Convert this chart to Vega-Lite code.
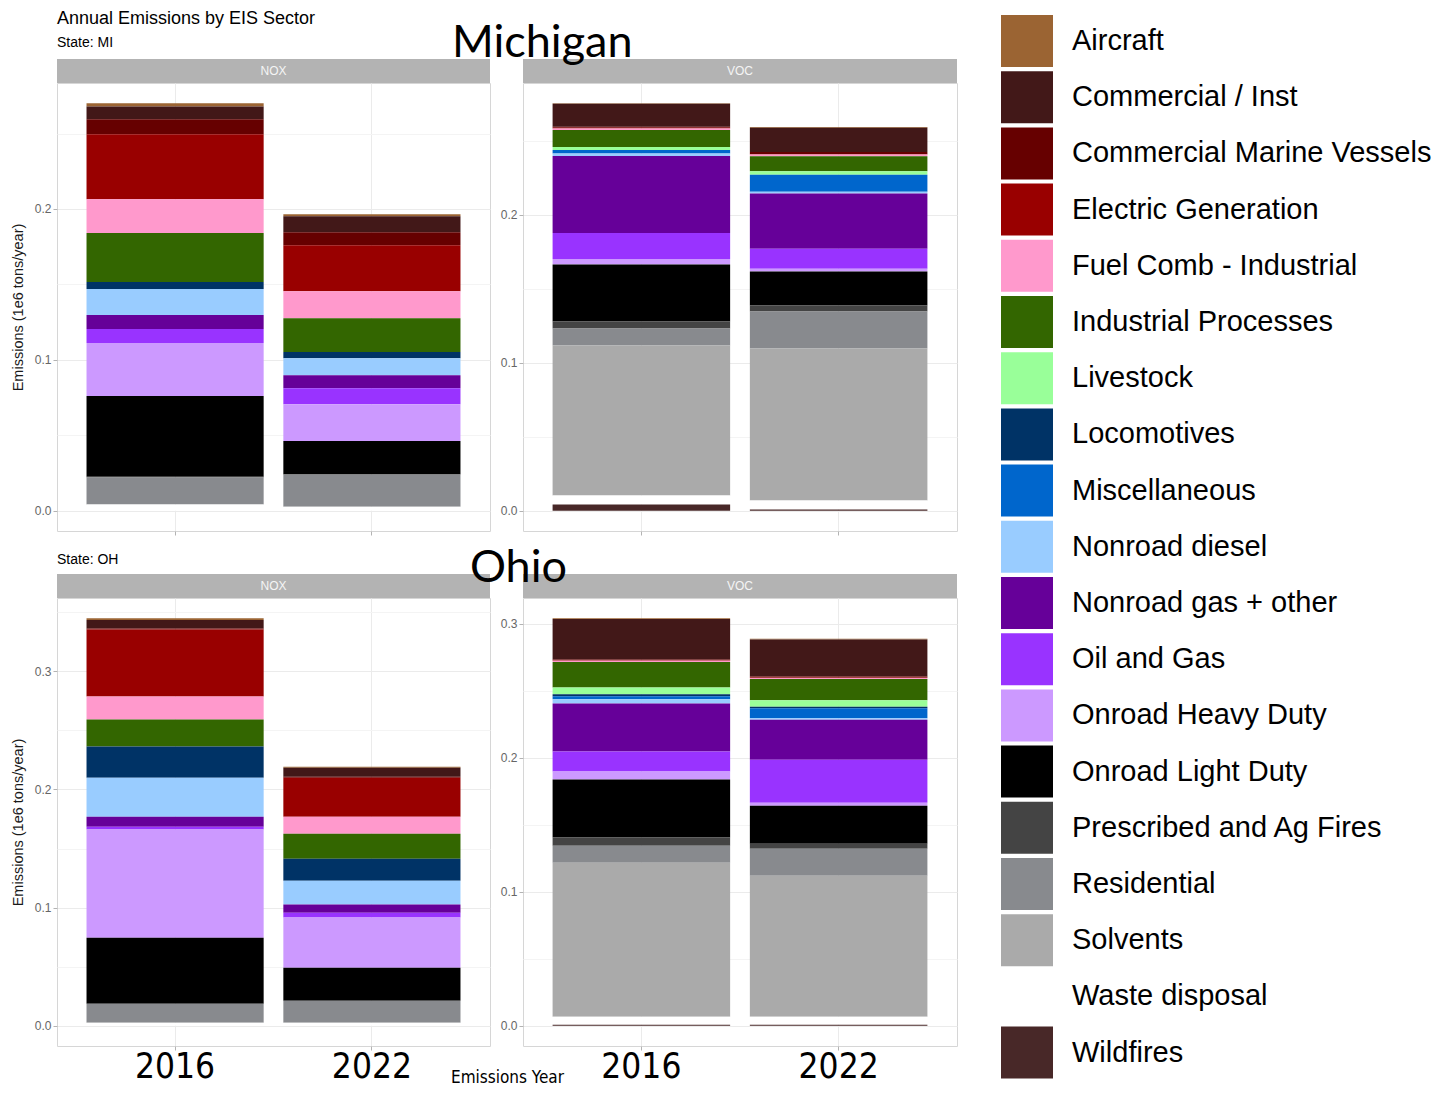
{
  "$schema": "https://vega.github.io/schema/vega-lite/v6.json",
  "background": "white",
  "padding": {"left": 9, "top": 10, "right": 5, "bottom": 0},
  "autosize": {"type": "pad"},
  "datasets": {
    "emissions": [
      {"state": "MI", "pollutant": "NOX", "year": 2016, "sector": "Aircraft", "emissions": 0.002},
      {"state": "MI", "pollutant": "NOX", "year": 2016, "sector": "Commercial / Inst", "emissions": 0.0086},
      {"state": "MI", "pollutant": "NOX", "year": 2016, "sector": "Commercial Marine Vessels", "emissions": 0.0099},
      {"state": "MI", "pollutant": "NOX", "year": 2016, "sector": "Electric Generation", "emissions": 0.043},
      {"state": "MI", "pollutant": "NOX", "year": 2016, "sector": "Fuel Comb - Industrial", "emissions": 0.0225},
      {"state": "MI", "pollutant": "NOX", "year": 2016, "sector": "Industrial Processes", "emissions": 0.0325},
      {"state": "MI", "pollutant": "NOX", "year": 2016, "sector": "Locomotives", "emissions": 0.0046},
      {"state": "MI", "pollutant": "NOX", "year": 2016, "sector": "Nonroad diesel", "emissions": 0.0172},
      {"state": "MI", "pollutant": "NOX", "year": 2016, "sector": "Nonroad gas + other", "emissions": 0.0093},
      {"state": "MI", "pollutant": "NOX", "year": 2016, "sector": "Oil and Gas", "emissions": 0.0093},
      {"state": "MI", "pollutant": "NOX", "year": 2016, "sector": "Onroad Heavy Duty", "emissions": 0.0351},
      {"state": "MI", "pollutant": "NOX", "year": 2016, "sector": "Onroad Light Duty", "emissions": 0.0536},
      {"state": "MI", "pollutant": "NOX", "year": 2016, "sector": "Prescribed and Ag Fires", "emissions": 0.0005},
      {"state": "MI", "pollutant": "NOX", "year": 2016, "sector": "Residential", "emissions": 0.0179},
      {"state": "MI", "pollutant": "NOX", "year": 2016, "sector": "Waste disposal", "emissions": 0.004},
      {"state": "MI", "pollutant": "NOX", "year": 2022, "sector": "Aircraft", "emissions": 0.0013},
      {"state": "MI", "pollutant": "NOX", "year": 2022, "sector": "Commercial / Inst", "emissions": 0.0106},
      {"state": "MI", "pollutant": "NOX", "year": 2022, "sector": "Commercial Marine Vessels", "emissions": 0.0086},
      {"state": "MI", "pollutant": "NOX", "year": 2022, "sector": "Electric Generation", "emissions": 0.0305},
      {"state": "MI", "pollutant": "NOX", "year": 2022, "sector": "Fuel Comb - Industrial", "emissions": 0.0179},
      {"state": "MI", "pollutant": "NOX", "year": 2022, "sector": "Industrial Processes", "emissions": 0.0225},
      {"state": "MI", "pollutant": "NOX", "year": 2022, "sector": "Locomotives", "emissions": 0.004},
      {"state": "MI", "pollutant": "NOX", "year": 2022, "sector": "Nonroad diesel", "emissions": 0.0113},
      {"state": "MI", "pollutant": "NOX", "year": 2022, "sector": "Nonroad gas + other", "emissions": 0.0086},
      {"state": "MI", "pollutant": "NOX", "year": 2022, "sector": "Oil and Gas", "emissions": 0.0106},
      {"state": "MI", "pollutant": "NOX", "year": 2022, "sector": "Onroad Heavy Duty", "emissions": 0.0245},
      {"state": "MI", "pollutant": "NOX", "year": 2022, "sector": "Onroad Light Duty", "emissions": 0.0219},
      {"state": "MI", "pollutant": "NOX", "year": 2022, "sector": "Prescribed and Ag Fires", "emissions": 0.0004},
      {"state": "MI", "pollutant": "NOX", "year": 2022, "sector": "Residential", "emissions": 0.0212},
      {"state": "MI", "pollutant": "NOX", "year": 2022, "sector": "Waste disposal", "emissions": 0.0026},
      {"state": "MI", "pollutant": "VOC", "year": 2016, "sector": "Aircraft", "emissions": 0.0002},
      {"state": "MI", "pollutant": "VOC", "year": 2016, "sector": "Commercial / Inst", "emissions": 0.0156},
      {"state": "MI", "pollutant": "VOC", "year": 2016, "sector": "Commercial Marine Vessels", "emissions": 0.0007},
      {"state": "MI", "pollutant": "VOC", "year": 2016, "sector": "Electric Generation", "emissions": 0.0005},
      {"state": "MI", "pollutant": "VOC", "year": 2016, "sector": "Fuel Comb - Industrial", "emissions": 0.001},
      {"state": "MI", "pollutant": "VOC", "year": 2016, "sector": "Industrial Processes", "emissions": 0.0115},
      {"state": "MI", "pollutant": "VOC", "year": 2016, "sector": "Livestock", "emissions": 0.002},
      {"state": "MI", "pollutant": "VOC", "year": 2016, "sector": "Miscellaneous", "emissions": 0.0024},
      {"state": "MI", "pollutant": "VOC", "year": 2016, "sector": "Nonroad diesel", "emissions": 0.0017},
      {"state": "MI", "pollutant": "VOC", "year": 2016, "sector": "Nonroad gas + other", "emissions": 0.052},
      {"state": "MI", "pollutant": "VOC", "year": 2016, "sector": "Oil and Gas", "emissions": 0.0176},
      {"state": "MI", "pollutant": "VOC", "year": 2016, "sector": "Onroad Heavy Duty", "emissions": 0.0037},
      {"state": "MI", "pollutant": "VOC", "year": 2016, "sector": "Onroad Light Duty", "emissions": 0.0385},
      {"state": "MI", "pollutant": "VOC", "year": 2016, "sector": "Prescribed and Ag Fires", "emissions": 0.0047},
      {"state": "MI", "pollutant": "VOC", "year": 2016, "sector": "Residential", "emissions": 0.0115},
      {"state": "MI", "pollutant": "VOC", "year": 2016, "sector": "Solvents", "emissions": 0.1014},
      {"state": "MI", "pollutant": "VOC", "year": 2016, "sector": "Waste disposal", "emissions": 0.0061},
      {"state": "MI", "pollutant": "VOC", "year": 2016, "sector": "Wildfires", "emissions": 0.0041},
      {"state": "MI", "pollutant": "VOC", "year": 2022, "sector": "Aircraft", "emissions": 0.0005},
      {"state": "MI", "pollutant": "VOC", "year": 2022, "sector": "Commercial / Inst", "emissions": 0.0164},
      {"state": "MI", "pollutant": "VOC", "year": 2022, "sector": "Commercial Marine Vessels", "emissions": 0.0014},
      {"state": "MI", "pollutant": "VOC", "year": 2022, "sector": "Electric Generation", "emissions": 0.0003},
      {"state": "MI", "pollutant": "VOC", "year": 2022, "sector": "Fuel Comb - Industrial", "emissions": 0.0011},
      {"state": "MI", "pollutant": "VOC", "year": 2022, "sector": "Industrial Processes", "emissions": 0.0101},
      {"state": "MI", "pollutant": "VOC", "year": 2022, "sector": "Livestock", "emissions": 0.0025},
      {"state": "MI", "pollutant": "VOC", "year": 2022, "sector": "Miscellaneous", "emissions": 0.0115},
      {"state": "MI", "pollutant": "VOC", "year": 2022, "sector": "Nonroad diesel", "emissions": 0.0011},
      {"state": "MI", "pollutant": "VOC", "year": 2022, "sector": "Nonroad gas + other", "emissions": 0.0374},
      {"state": "MI", "pollutant": "VOC", "year": 2022, "sector": "Oil and Gas", "emissions": 0.0135},
      {"state": "MI", "pollutant": "VOC", "year": 2022, "sector": "Onroad Heavy Duty", "emissions": 0.0018},
      {"state": "MI", "pollutant": "VOC", "year": 2022, "sector": "Onroad Light Duty", "emissions": 0.023},
      {"state": "MI", "pollutant": "VOC", "year": 2022, "sector": "Prescribed and Ag Fires", "emissions": 0.0041},
      {"state": "MI", "pollutant": "VOC", "year": 2022, "sector": "Residential", "emissions": 0.025},
      {"state": "MI", "pollutant": "VOC", "year": 2022, "sector": "Solvents", "emissions": 0.1027},
      {"state": "MI", "pollutant": "VOC", "year": 2022, "sector": "Waste disposal", "emissions": 0.0061},
      {"state": "MI", "pollutant": "VOC", "year": 2022, "sector": "Wildfires", "emissions": 0.0007},
      {"state": "OH", "pollutant": "NOX", "year": 2016, "sector": "Aircraft", "emissions": 0.0013},
      {"state": "OH", "pollutant": "NOX", "year": 2016, "sector": "Commercial / Inst", "emissions": 0.0073},
      {"state": "OH", "pollutant": "NOX", "year": 2016, "sector": "Commercial Marine Vessels", "emissions": 0.0008},
      {"state": "OH", "pollutant": "NOX", "year": 2016, "sector": "Electric Generation", "emissions": 0.0568},
      {"state": "OH", "pollutant": "NOX", "year": 2016, "sector": "Fuel Comb - Industrial", "emissions": 0.0195},
      {"state": "OH", "pollutant": "NOX", "year": 2016, "sector": "Industrial Processes", "emissions": 0.0229},
      {"state": "OH", "pollutant": "NOX", "year": 2016, "sector": "Locomotives", "emissions": 0.0263},
      {"state": "OH", "pollutant": "NOX", "year": 2016, "sector": "Nonroad diesel", "emissions": 0.033},
      {"state": "OH", "pollutant": "NOX", "year": 2016, "sector": "Nonroad gas + other", "emissions": 0.0085},
      {"state": "OH", "pollutant": "NOX", "year": 2016, "sector": "Oil and Gas", "emissions": 0.0025},
      {"state": "OH", "pollutant": "NOX", "year": 2016, "sector": "Onroad Heavy Duty", "emissions": 0.0915},
      {"state": "OH", "pollutant": "NOX", "year": 2016, "sector": "Onroad Light Duty", "emissions": 0.0559},
      {"state": "OH", "pollutant": "NOX", "year": 2016, "sector": "Residential", "emissions": 0.0161},
      {"state": "OH", "pollutant": "NOX", "year": 2016, "sector": "Waste disposal", "emissions": 0.0025},
      {"state": "OH", "pollutant": "NOX", "year": 2022, "sector": "Aircraft", "emissions": 0.0008},
      {"state": "OH", "pollutant": "NOX", "year": 2022, "sector": "Commercial / Inst", "emissions": 0.0076},
      {"state": "OH", "pollutant": "NOX", "year": 2022, "sector": "Commercial Marine Vessels", "emissions": 0.0008},
      {"state": "OH", "pollutant": "NOX", "year": 2022, "sector": "Electric Generation", "emissions": 0.033},
      {"state": "OH", "pollutant": "NOX", "year": 2022, "sector": "Fuel Comb - Industrial", "emissions": 0.0144},
      {"state": "OH", "pollutant": "NOX", "year": 2022, "sector": "Industrial Processes", "emissions": 0.0212},
      {"state": "OH", "pollutant": "NOX", "year": 2022, "sector": "Locomotives", "emissions": 0.0186},
      {"state": "OH", "pollutant": "NOX", "year": 2022, "sector": "Nonroad diesel", "emissions": 0.0203},
      {"state": "OH", "pollutant": "NOX", "year": 2022, "sector": "Nonroad gas + other", "emissions": 0.0068},
      {"state": "OH", "pollutant": "NOX", "year": 2022, "sector": "Oil and Gas", "emissions": 0.0042},
      {"state": "OH", "pollutant": "NOX", "year": 2022, "sector": "Onroad Heavy Duty", "emissions": 0.0424},
      {"state": "OH", "pollutant": "NOX", "year": 2022, "sector": "Onroad Light Duty", "emissions": 0.028},
      {"state": "OH", "pollutant": "NOX", "year": 2022, "sector": "Residential", "emissions": 0.0186},
      {"state": "OH", "pollutant": "NOX", "year": 2022, "sector": "Waste disposal", "emissions": 0.0025},
      {"state": "OH", "pollutant": "VOC", "year": 2016, "sector": "Aircraft", "emissions": 0.0005},
      {"state": "OH", "pollutant": "VOC", "year": 2016, "sector": "Commercial / Inst", "emissions": 0.0301},
      {"state": "OH", "pollutant": "VOC", "year": 2016, "sector": "Commercial Marine Vessels", "emissions": 0.0007},
      {"state": "OH", "pollutant": "VOC", "year": 2016, "sector": "Electric Generation", "emissions": 0.0004},
      {"state": "OH", "pollutant": "VOC", "year": 2016, "sector": "Fuel Comb - Industrial", "emissions": 0.0009},
      {"state": "OH", "pollutant": "VOC", "year": 2016, "sector": "Industrial Processes", "emissions": 0.0189},
      {"state": "OH", "pollutant": "VOC", "year": 2016, "sector": "Livestock", "emissions": 0.0052},
      {"state": "OH", "pollutant": "VOC", "year": 2016, "sector": "Locomotives", "emissions": 0.0015},
      {"state": "OH", "pollutant": "VOC", "year": 2016, "sector": "Miscellaneous", "emissions": 0.0022},
      {"state": "OH", "pollutant": "VOC", "year": 2016, "sector": "Nonroad diesel", "emissions": 0.0032},
      {"state": "OH", "pollutant": "VOC", "year": 2016, "sector": "Nonroad gas + other", "emissions": 0.0358},
      {"state": "OH", "pollutant": "VOC", "year": 2016, "sector": "Oil and Gas", "emissions": 0.0149},
      {"state": "OH", "pollutant": "VOC", "year": 2016, "sector": "Onroad Heavy Duty", "emissions": 0.006},
      {"state": "OH", "pollutant": "VOC", "year": 2016, "sector": "Onroad Light Duty", "emissions": 0.0433},
      {"state": "OH", "pollutant": "VOC", "year": 2016, "sector": "Prescribed and Ag Fires", "emissions": 0.006},
      {"state": "OH", "pollutant": "VOC", "year": 2016, "sector": "Residential", "emissions": 0.0127},
      {"state": "OH", "pollutant": "VOC", "year": 2016, "sector": "Solvents", "emissions": 0.1149},
      {"state": "OH", "pollutant": "VOC", "year": 2016, "sector": "Waste disposal", "emissions": 0.006},
      {"state": "OH", "pollutant": "VOC", "year": 2016, "sector": "Wildfires", "emissions": 0.0007},
      {"state": "OH", "pollutant": "VOC", "year": 2022, "sector": "Aircraft", "emissions": 0.0005},
      {"state": "OH", "pollutant": "VOC", "year": 2022, "sector": "Commercial / Inst", "emissions": 0.0276},
      {"state": "OH", "pollutant": "VOC", "year": 2022, "sector": "Commercial Marine Vessels", "emissions": 0.0007},
      {"state": "OH", "pollutant": "VOC", "year": 2022, "sector": "Electric Generation", "emissions": 0.0004},
      {"state": "OH", "pollutant": "VOC", "year": 2022, "sector": "Fuel Comb - Industrial", "emissions": 0.0007},
      {"state": "OH", "pollutant": "VOC", "year": 2022, "sector": "Industrial Processes", "emissions": 0.0159},
      {"state": "OH", "pollutant": "VOC", "year": 2022, "sector": "Livestock", "emissions": 0.0048},
      {"state": "OH", "pollutant": "VOC", "year": 2022, "sector": "Locomotives", "emissions": 0.0011},
      {"state": "OH", "pollutant": "VOC", "year": 2022, "sector": "Miscellaneous", "emissions": 0.0075},
      {"state": "OH", "pollutant": "VOC", "year": 2022, "sector": "Nonroad diesel", "emissions": 0.0012},
      {"state": "OH", "pollutant": "VOC", "year": 2022, "sector": "Nonroad gas + other", "emissions": 0.0298},
      {"state": "OH", "pollutant": "VOC", "year": 2022, "sector": "Oil and Gas", "emissions": 0.0321},
      {"state": "OH", "pollutant": "VOC", "year": 2022, "sector": "Onroad Heavy Duty", "emissions": 0.0022},
      {"state": "OH", "pollutant": "VOC", "year": 2022, "sector": "Onroad Light Duty", "emissions": 0.0284},
      {"state": "OH", "pollutant": "VOC", "year": 2022, "sector": "Prescribed and Ag Fires", "emissions": 0.0037},
      {"state": "OH", "pollutant": "VOC", "year": 2022, "sector": "Residential", "emissions": 0.0201},
      {"state": "OH", "pollutant": "VOC", "year": 2022, "sector": "Solvents", "emissions": 0.1052},
      {"state": "OH", "pollutant": "VOC", "year": 2022, "sector": "Waste disposal", "emissions": 0.006},
      {"state": "OH", "pollutant": "VOC", "year": 2022, "sector": "Wildfires", "emissions": 0.0007}
    ]
  },
  "vconcat": [
    {
      "columns": 2,
      "bounds": "flush",
      "align": "each",
      "spacing": {"row": 0, "column": 33},
      "concat": [
        {
          "width": 433, "height": 24,
          "view": {"stroke": null},
          "data": {"values": [{"pollutant": "NOX"}]},
          "title": {"text": "Annual Emissions by EIS Sector", "subtitle": "State: MI", "anchor": "start", "frame": "group", "fontSize": 18, "fontWeight": "normal", "color": "#000000", "subtitleFontSize": 14, "subtitleColor": "#000000", "subtitlePadding": 8, "offset": 9},
          "layer": [
            {"mark": {"type": "rect", "color": "#b3b3b3"}, "encoding": {}},
            {"mark": {"type": "text", "color": "#f5f5f5", "fontSize": 12}, "encoding": {"text": {"field": "pollutant", "type": "nominal"}}}
          ]
        },
        {
          "width": 434, "height": 24,
          "view": {"stroke": null},
          "data": {"values": [{"pollutant": "VOC"}]},
          "title": {"text": "Michigan", "anchor": "start", "frame": "group", "dx": -71, "baseline": "alphabetic", "offset": -43, "font": "Lato", "fontSize": 45, "fontWeight": "normal", "color": "#000000"},
          "layer": [
            {"mark": {"type": "rect", "color": "#b3b3b3"}, "encoding": {}},
            {"mark": {"type": "text", "color": "#f5f5f5", "fontSize": 12}, "encoding": {"text": {"field": "pollutant", "type": "nominal"}}}
          ]
        },
        {
          "width": 433, "height": 448,
          "data": {"name": "emissions"},
          "transform": [{"filter": "datum.state == 'MI' && datum.pollutant == 'NOX'"}],
          "mark": {"type": "bar"},
          "encoding": {
            "x": {"field": "year", "type": "ordinal", "scale": {"paddingInner": 0.1, "paddingOuter": 0.15}, "axis": {"labels": false, "title": null}},
            "y": {"field": "emissions", "type": "quantitative", "stack": "zero", "scale": {"domain": [-0.0135, 0.2835], "nice": false, "zero": false},
              "axis": {"title": "Emissions (1e6 tons/year)", "values": [0, 0.05, 0.1, 0.15, 0.2, 0.25],
                "labelExpr": "round(datum.value*20) % 2 == 0 ? format(datum.value, '.1f') : ''",
                "gridColor": {"condition": {"test": "round(datum.value*20) % 2 != 0", "value": "#f4f4f4"}, "value": "#ebebeb"},
                "tickOpacity": {"condition": {"test": "round(datum.value*20) % 2 != 0", "value": 0}, "value": 1}}},
            "color": {"field": "sector", "type": "nominal",
              "scale": {"domain": ["Aircraft", "Commercial / Inst", "Commercial Marine Vessels", "Electric Generation", "Fuel Comb - Industrial", "Industrial Processes", "Livestock", "Locomotives", "Miscellaneous", "Nonroad diesel", "Nonroad gas + other", "Oil and Gas", "Onroad Heavy Duty", "Onroad Light Duty", "Prescribed and Ag Fires", "Residential", "Solvents", "Waste disposal", "Wildfires"],
                "range": ["#9b6433", "#421818", "#660000", "#990000", "#ff99cc", "#336600", "#99ff99", "#003366", "#0066cc", "#99ccff", "#660099", "#9933ff", "#cc99ff", "#000000", "#444444", "#888a8e", "#aaaaaa", "#ffffff", "#482828"]},
              "legend": {"title": null}},
            "order": {"field": "sector", "sort": "descending"}
          }
        },
        {
          "width": 434, "height": 448,
          "data": {"name": "emissions"},
          "transform": [{"filter": "datum.state == 'MI' && datum.pollutant == 'VOC'"}],
          "mark": {"type": "bar"},
          "encoding": {
            "x": {"field": "year", "type": "ordinal", "scale": {"paddingInner": 0.1, "paddingOuter": 0.15}, "axis": {"labels": false, "title": null}},
            "y": {"field": "emissions", "type": "quantitative", "stack": "zero", "scale": {"domain": [-0.01376, 0.28896], "nice": false, "zero": false},
              "axis": {"title": null, "values": [0, 0.05, 0.1, 0.15, 0.2, 0.25],
                "labelExpr": "round(datum.value*20) % 2 == 0 ? format(datum.value, '.1f') : ''",
                "gridColor": {"condition": {"test": "round(datum.value*20) % 2 != 0", "value": "#f4f4f4"}, "value": "#ebebeb"},
                "tickOpacity": {"condition": {"test": "round(datum.value*20) % 2 != 0", "value": 0}, "value": 1}}},
            "color": {"field": "sector", "type": "nominal",
              "scale": {"domain": ["Aircraft", "Commercial / Inst", "Commercial Marine Vessels", "Electric Generation", "Fuel Comb - Industrial", "Industrial Processes", "Livestock", "Locomotives", "Miscellaneous", "Nonroad diesel", "Nonroad gas + other", "Oil and Gas", "Onroad Heavy Duty", "Onroad Light Duty", "Prescribed and Ag Fires", "Residential", "Solvents", "Waste disposal", "Wildfires"],
                "range": ["#9b6433", "#421818", "#660000", "#990000", "#ff99cc", "#336600", "#99ff99", "#003366", "#0066cc", "#99ccff", "#660099", "#9933ff", "#cc99ff", "#000000", "#444444", "#888a8e", "#aaaaaa", "#ffffff", "#482828"]},
              "legend": {"title": null}},
            "order": {"field": "sector", "sort": "descending"}
          }
        }
      ]
    },
    {
      "columns": 2,
      "bounds": "flush",
      "align": "each",
      "spacing": {"row": 0, "column": 33},
      "concat": [
        {
          "width": 433, "height": 24,
          "view": {"stroke": null},
          "data": {"values": [{"pollutant": "NOX"}]},
          "title": {"text": "State: OH", "anchor": "start", "frame": "group", "baseline": "alphabetic", "fontSize": 14, "fontWeight": "normal", "color": "#000000", "offset": -4},
          "layer": [
            {"mark": {"type": "rect", "color": "#b3b3b3"}, "encoding": {}},
            {"mark": {"type": "text", "color": "#f5f5f5", "fontSize": 12}, "encoding": {"text": {"field": "pollutant", "type": "nominal"}}}
          ]
        },
        {
          "width": 434, "height": 24,
          "view": {"stroke": null},
          "data": {"values": [{"pollutant": "VOC"}]},
          "title": {"text": "Ohio", "anchor": "start", "frame": "group", "dx": -53, "baseline": "alphabetic", "offset": -53, "font": "Lato", "fontSize": 45, "fontWeight": "normal", "color": "#000000"},
          "layer": [
            {"mark": {"type": "rect", "color": "#b3b3b3"}, "encoding": {}},
            {"mark": {"type": "text", "color": "#f5f5f5", "fontSize": 12}, "encoding": {"text": {"field": "pollutant", "type": "nominal"}}}
          ]
        },
        {
          "width": 433, "height": 448,
          "data": {"name": "emissions"},
          "transform": [{"filter": "datum.state == 'OH' && datum.pollutant == 'NOX'"}],
          "mark": {"type": "bar"},
          "encoding": {
            "x": {"field": "year", "type": "ordinal", "scale": {"paddingInner": 0.1, "paddingOuter": 0.15},
              "axis": {"labels": true, "labelFont": "Liberation Sans Narrow, DejaVu Sans Condensed, sans-serif", "labelFontSize": 35, "labelColor": "#000000", "labelPadding": -1,
                "title": "Emissions Year", "titleX": 450, "titleY": 36, "titleAlign": "center", "titleBaseline": "alphabetic", "titleFont": "Liberation Sans Narrow, DejaVu Sans Condensed, sans-serif", "titleFontSize": 17, "titleColor": "#000000", "titleFontWeight": "normal"}},
            "y": {"field": "emissions", "type": "quantitative", "stack": "zero", "scale": {"domain": [-0.01724, 0.36215], "nice": false, "zero": false},
              "axis": {"title": "Emissions (1e6 tons/year)", "values": [0, 0.05, 0.1, 0.15, 0.2, 0.25, 0.3, 0.35],
                "labelExpr": "round(datum.value*20) % 2 == 0 ? format(datum.value, '.1f') : ''",
                "gridColor": {"condition": {"test": "round(datum.value*20) % 2 != 0", "value": "#f4f4f4"}, "value": "#ebebeb"},
                "tickOpacity": {"condition": {"test": "round(datum.value*20) % 2 != 0", "value": 0}, "value": 1}}},
            "color": {"field": "sector", "type": "nominal",
              "scale": {"domain": ["Aircraft", "Commercial / Inst", "Commercial Marine Vessels", "Electric Generation", "Fuel Comb - Industrial", "Industrial Processes", "Livestock", "Locomotives", "Miscellaneous", "Nonroad diesel", "Nonroad gas + other", "Oil and Gas", "Onroad Heavy Duty", "Onroad Light Duty", "Prescribed and Ag Fires", "Residential", "Solvents", "Waste disposal", "Wildfires"],
                "range": ["#9b6433", "#421818", "#660000", "#990000", "#ff99cc", "#336600", "#99ff99", "#003366", "#0066cc", "#99ccff", "#660099", "#9933ff", "#cc99ff", "#000000", "#444444", "#888a8e", "#aaaaaa", "#ffffff", "#482828"]},
              "legend": {"title": null}},
            "order": {"field": "sector", "sort": "descending"}
          }
        },
        {
          "width": 434, "height": 448,
          "data": {"name": "emissions"},
          "transform": [{"filter": "datum.state == 'OH' && datum.pollutant == 'VOC'"}],
          "mark": {"type": "bar"},
          "encoding": {
            "x": {"field": "year", "type": "ordinal", "scale": {"paddingInner": 0.1, "paddingOuter": 0.15},
              "axis": {"labels": true, "labelFont": "Liberation Sans Narrow, DejaVu Sans Condensed, sans-serif", "labelFontSize": 35, "labelColor": "#000000", "labelPadding": -1, "title": null}},
            "y": {"field": "emissions", "type": "quantitative", "stack": "zero", "scale": {"domain": [-0.0152, 0.3191], "nice": false, "zero": false},
              "axis": {"title": null, "values": [0, 0.05, 0.1, 0.15, 0.2, 0.25, 0.3],
                "labelExpr": "round(datum.value*20) % 2 == 0 ? format(datum.value, '.1f') : ''",
                "gridColor": {"condition": {"test": "round(datum.value*20) % 2 != 0", "value": "#f4f4f4"}, "value": "#ebebeb"},
                "tickOpacity": {"condition": {"test": "round(datum.value*20) % 2 != 0", "value": 0}, "value": 1}}},
            "color": {"field": "sector", "type": "nominal",
              "scale": {"domain": ["Aircraft", "Commercial / Inst", "Commercial Marine Vessels", "Electric Generation", "Fuel Comb - Industrial", "Industrial Processes", "Livestock", "Locomotives", "Miscellaneous", "Nonroad diesel", "Nonroad gas + other", "Oil and Gas", "Onroad Heavy Duty", "Onroad Light Duty", "Prescribed and Ag Fires", "Residential", "Solvents", "Waste disposal", "Wildfires"],
                "range": ["#9b6433", "#421818", "#660000", "#990000", "#ff99cc", "#336600", "#99ff99", "#003366", "#0066cc", "#99ccff", "#660099", "#9933ff", "#cc99ff", "#000000", "#444444", "#888a8e", "#aaaaaa", "#ffffff", "#482828"]},
              "legend": {"title": null}},
            "order": {"field": "sector", "sort": "descending"}
          }
        }
      ]
    }
  ],
  "spacing": 10,
  "resolve": {"scale": {"color": "shared"}, "legend": {"color": "shared"}},
  "config": {
    "font": "Liberation Sans",
    "view": {"stroke": "#d6d6d6", "strokeWidth": 1},
    "axis": {"domain": false, "grid": true, "gridColor": "#ebebeb", "tickColor": "#b3b3b3", "tickSize": 4, "labelColor": "#666666", "labelFontSize": 12, "labelFont": "Liberation Sans", "labelOverlap": false, "titleFont": "Liberation Sans", "titleFontSize": 14.5, "titleFontWeight": "normal", "titleColor": "#1a1a1a", "titlePadding": 9},
    "axisX": {"bandPosition": 0.5, "labelAngle": 0},
    "legend": {"orient": "none", "legendX": 944, "legendY": -44, "direction": "vertical", "columns": 1, "symbolType": "square", "symbolSize": 2704, "symbolStrokeWidth": 0, "symbolOpacity": 1, "labelFontSize": 29, "labelFont": "Liberation Sans", "labelColor": "#000000", "labelOffset": 19, "labelLimit": 600, "rowPadding": 4.2, "padding": 0}
  }
}
